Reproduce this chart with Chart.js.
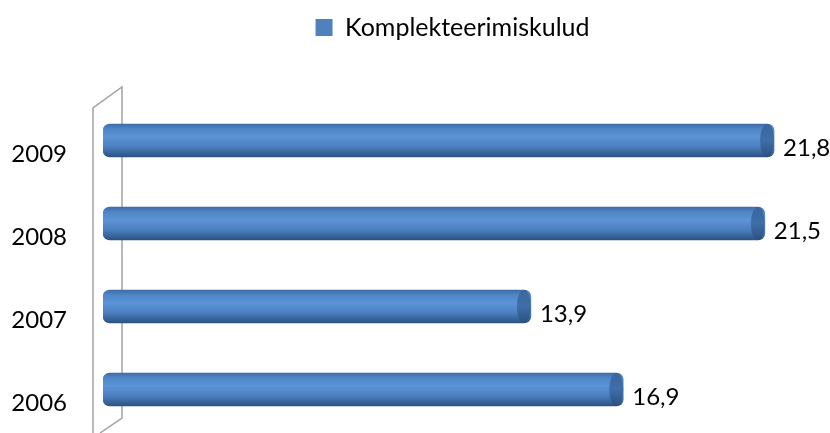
<!DOCTYPE html>
<html>
<head>
<meta charset="UTF-8">
<title>Komplekteerimiskulud</title>
<script src="https://cdn.jsdelivr.net/npm/chart.js"></script>
<style>
  body { margin: 0; background: #fff; }
  #wrap { width: 830px; height: 433px; }
</style>
</head>
<body>
<div id="wrap"><canvas id="costChart"></canvas></div>
<script>
// data
const years = ['2009', '2008', '2007', '2006'];
const costs = [21.8, 21.5, 13.9, 16.9];
const seriesName = 'Komplekteerimiskulud';

const FONT = 'Lato, "Open Sans", sans-serif';
const BAR_H = 33;

// vertical gradient so the bars look like cylinders
function barFill(c) {
  const chart = c.chart;
  if (!chart.chartArea) return '#4F81BD';
  const y = chart.scales.y.getPixelForValue(c.dataIndex);
  const g = chart.ctx.createLinearGradient(0, y - BAR_H / 2, 0, y + BAR_H / 2);
  g.addColorStop(0, '#3e6ca6');
  g.addColorStop(0.15, '#4f86c6');
  g.addColorStop(0.4, '#5c94d7');
  g.addColorStop(0.7, '#4a7ebe');
  g.addColorStop(1, '#2c5282');
  return g;
}

// 3d wall behind the category axis
const wallPlugin = {
  id: 'wall',
  beforeDatasetsDraw(chart) {
    const { ctx, chartArea: a } = chart;
    ctx.save();
    ctx.strokeStyle = '#a3a3a3';
    ctx.lineWidth = 1.5;
    ctx.beginPath();
    ctx.moveTo(a.left - 10, chart.height);
    ctx.lineTo(a.left - 10, a.top + 9);
    ctx.lineTo(a.left + 19, a.top - 12);
    ctx.lineTo(a.left + 19, a.bottom - 13);
    ctx.lineTo(a.left - 3, chart.height);
    ctx.stroke();
    ctx.restore();
  }
};

// end caps, value labels and year labels (sit a bit low, like the 3d original)
const capPlugin = {
  id: 'caps',
  afterDatasetsDraw(chart) {
    const ctx = chart.ctx;
    const yScale = chart.scales.y;
    const meta = chart.getDatasetMeta(0);
    ctx.save();
    ctx.font = '24px ' + FONT;
    ctx.textBaseline = 'middle';
    meta.data.forEach((bar, i) => {
      const h = bar.height / 2;
      const rx = 7;
      const g = ctx.createLinearGradient(0, bar.y - h, 0, bar.y + h);
      g.addColorStop(0, '#3a669e');
      g.addColorStop(0.5, '#3f6ea8');
      g.addColorStop(1, '#2b5080');
      ctx.fillStyle = g;
      ctx.beginPath();
      ctx.ellipse(bar.x - rx, bar.y, rx, h, 0, 0, Math.PI * 2);
      ctx.fill();

      ctx.fillStyle = '#000';
      ctx.textAlign = 'left';
      ctx.fillText(costs[i].toFixed(1).replace('.', ','), bar.x + 9, bar.y + 8);
    });
    years.forEach((yr, i) => {
      ctx.textAlign = 'right';
      ctx.fillText(yr, chart.chartArea.left - 36, yScale.getPixelForValue(i) + 14);
    });
    ctx.restore();
  }
};

// push the plot down below the legend
const legendSpace = {
  id: 'legendSpace',
  beforeInit(chart) {
    const fit = chart.legend.fit;
    chart.legend.fit = function () {
      fit.bind(chart.legend)();
      this.height = 94;
    };
  }
};

const ctx = document.getElementById('costChart').getContext('2d');

new Chart(ctx, {
  type: 'bar',
  data: {
    labels: years,
    datasets: [{
      label: seriesName,
      data: costs,
      backgroundColor: barFill,
      barThickness: BAR_H,
      borderRadius: 7,
      borderSkipped: false
    }]
  },
  options: {
    indexAxis: 'y',
    responsive: true,
    maintainAspectRatio: false,
    animation: false,
    layout: { padding: { top: 5, left: 94, right: 19, bottom: 2 } },
    plugins: {
      tooltip: { enabled: false },
      legend: {
        position: 'top',
        labels: {
          boxWidth: 17,
          boxHeight: 17,
          color: '#000',
          font: { family: FONT, size: 25 },
          generateLabels: () => [{ text: seriesName, fillStyle: '#4F81BD', strokeStyle: '#4F81BD', lineWidth: 0 }]
        }
      }
    },
    scales: {
      x: { display: false, min: 0, max: 23 },
      y: {
        grid: { display: false, drawTicks: false },
        border: { display: false },
        ticks: { display: false },
        afterFit(scale) {
          scale.width = 9;
          scale.paddingTop = 0;
          scale.paddingBottom = 0;
        }
      }
    }
  },
  plugins: [wallPlugin, capPlugin, legendSpace]
});
</script>
</body>
</html>
